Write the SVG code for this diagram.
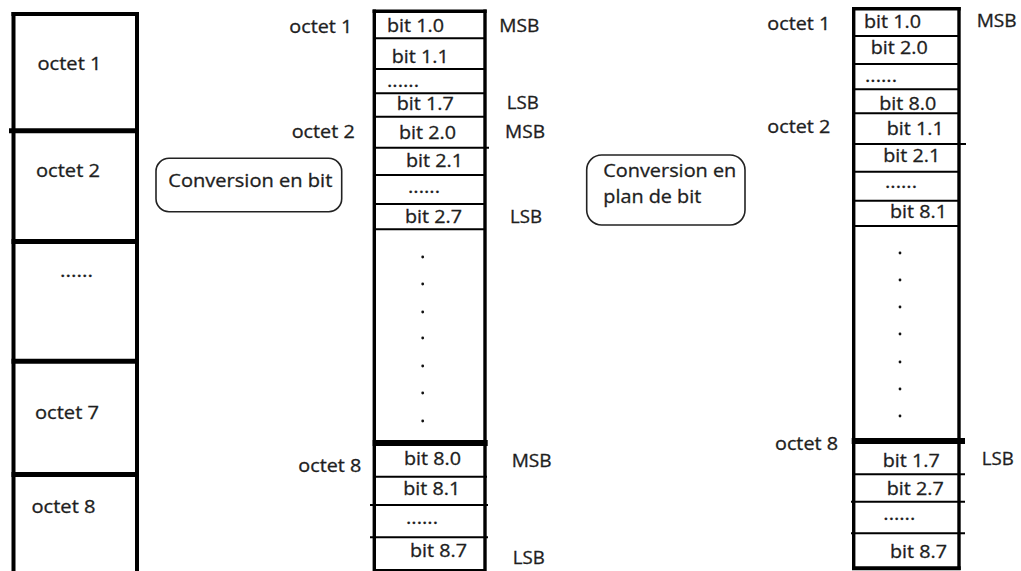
<svg xmlns="http://www.w3.org/2000/svg" width="1021" height="571" viewBox="0 0 1021 571">
<style>
  .t { font-family: "Open Sans", "Liberation Sans", sans-serif; font-size: 17.5px; fill: #1e1e1e; stroke: #1e1e1e; stroke-width: 0.3px; }
  .tb { font-family: "Open Sans", "Liberation Sans", sans-serif; font-size: 18px; fill: #1e1e1e; stroke: #1e1e1e; stroke-width: 0.3px; }
  .v { stroke: #000; stroke-width: 3.4; fill: none; }
  .h { stroke: #000; stroke-width: 2; fill: none; }
  .hk { stroke: #000; stroke-width: 6; fill: none; }
  .lv { stroke: #000; stroke-width: 4; fill: none; }
  .lh { stroke: #000; stroke-width: 5; fill: none; }
  .bub { fill: #fff; stroke: #222; stroke-width: 1.6; }
  .dot { fill: #111; }
</style>
<rect x="0" y="0" width="1021" height="571" fill="#fff"/>

<g id="bytes-column">
  <line class="lv" x1="13.5" y1="12" x2="13.5" y2="571"/>
  <line class="lv" x1="137" y1="12" x2="137" y2="571"/>
  <line class="lv" x1="11.5" y1="14" x2="139" y2="14"/>
  <line class="lh" x1="9" y1="130.7" x2="139" y2="130.7"/>
  <line class="lh" x1="11.5" y1="241.6" x2="139" y2="241.6"/>
  <line class="lh" x1="11.5" y1="361.3" x2="139" y2="361.3"/>
  <line class="lh" x1="11.5" y1="474.5" x2="139" y2="474.5"/>
  <g id="byte-1"><text class="tb" x="37.5" y="69.5" textLength="64" lengthAdjust="spacingAndGlyphs">octet 1</text></g>
  <g id="byte-2"><text class="tb" x="36" y="177" textLength="64" lengthAdjust="spacingAndGlyphs">octet 2</text></g>
  <g id="byte-dots"><text class="tb" x="60" y="276.5" textLength="33" lengthAdjust="spacingAndGlyphs">......</text></g>
  <g id="byte-7"><text class="tb" x="35" y="419" textLength="64" lengthAdjust="spacingAndGlyphs">octet 7</text></g>
  <g id="byte-8"><text class="tb" x="31.5" y="513" textLength="64" lengthAdjust="spacingAndGlyphs">octet 8</text></g>
</g>

<g id="bubble-conversion-bit">
  <rect class="bub" x="156" y="158.3" width="185.7" height="53.4" rx="13" ry="13"/>
  <text class="t" x="168.3" y="187.3" textLength="164" lengthAdjust="spacingAndGlyphs">Conversion en bit</text>
</g>

<g id="bits-column">
  <line class="v" x1="374.3" y1="9.5" x2="374.3" y2="571"/>
  <line class="v" x1="485" y1="9.5" x2="485" y2="571"/>
  <line class="v" x1="372.6" y1="11.3" x2="486.7" y2="11.3"/>
  <line class="h" x1="374" y1="38.3" x2="485" y2="38.3"/>
  <line class="h" x1="374" y1="69" x2="485" y2="69"/>
  <line class="h" x1="374" y1="93.3" x2="485" y2="93.3"/>
  <line class="h" x1="374" y1="116.7" x2="485" y2="116.7"/>
  <line class="h" x1="374" y1="147.7" x2="489" y2="147.7"/>
  <line class="h" x1="374" y1="175" x2="485" y2="175"/>
  <line class="h" x1="374" y1="204" x2="485" y2="204"/>
  <line class="h" x1="374" y1="229.3" x2="485" y2="229.3"/>
  <line class="hk" x1="372.7" y1="443" x2="487.7" y2="443"/>
  <line class="h" x1="374" y1="476.7" x2="487" y2="476.7"/>
  <line class="h" x1="370" y1="505" x2="488" y2="505"/>
  <line class="h" x1="370" y1="537.3" x2="488" y2="537.3"/>
  <line class="h" x1="374" y1="570" x2="485" y2="570"/>
  <g id="b10"><text class="t" x="387" y="31.7" textLength="57" lengthAdjust="spacingAndGlyphs">bit 1.0</text></g>
  <g id="b11"><text class="t" x="391.7" y="62.7" textLength="57" lengthAdjust="spacingAndGlyphs">bit 1.1</text></g>
  <g id="b1d"><text class="t" x="387" y="86.7" textLength="32" lengthAdjust="spacingAndGlyphs">......</text></g>
  <g id="b17"><text class="t" x="396.7" y="110" textLength="57" lengthAdjust="spacingAndGlyphs">bit 1.7</text></g>
  <g id="b20"><text class="t" x="399" y="139" textLength="57" lengthAdjust="spacingAndGlyphs">bit 2.0</text></g>
  <g id="b21"><text class="t" x="406" y="166.7" textLength="57" lengthAdjust="spacingAndGlyphs">bit 2.1</text></g>
  <g id="b2d"><text class="t" x="408" y="192.7" textLength="32" lengthAdjust="spacingAndGlyphs">......</text></g>
  <g id="b27"><text class="t" x="405" y="222.7" textLength="57" lengthAdjust="spacingAndGlyphs">bit 2.7</text></g>
  <g id="b-vdots">
    <circle class="dot" cx="422.7" cy="257" r="1.4"/>
    <circle class="dot" cx="422.7" cy="284" r="1.4"/>
    <circle class="dot" cx="422.7" cy="312" r="1.4"/>
    <circle class="dot" cx="422.7" cy="338" r="1.4"/>
    <circle class="dot" cx="422.7" cy="366" r="1.4"/>
    <circle class="dot" cx="422.7" cy="393" r="1.4"/>
    <circle class="dot" cx="422.7" cy="421" r="1.4"/>
  </g>
  <g id="b80"><text class="t" x="404" y="465" textLength="57" lengthAdjust="spacingAndGlyphs">bit 8.0</text></g>
  <g id="b81"><text class="t" x="403.3" y="495" textLength="57" lengthAdjust="spacingAndGlyphs">bit 8.1</text></g>
  <g id="b8d"><text class="t" x="406" y="524" textLength="32" lengthAdjust="spacingAndGlyphs">......</text></g>
  <g id="b87"><text class="t" x="410" y="556.7" textLength="57" lengthAdjust="spacingAndGlyphs">bit 8.7</text></g>
  <g id="bits-labels">
    <text class="t" x="289.3" y="33.3" textLength="63" lengthAdjust="spacingAndGlyphs">octet 1</text>
    <text class="t" x="291.7" y="138.3" textLength="63" lengthAdjust="spacingAndGlyphs">octet 2</text>
    <text class="t" x="298.3" y="471.7" textLength="63" lengthAdjust="spacingAndGlyphs">octet 8</text>
    <text class="t" x="499.3" y="31.7" textLength="40" lengthAdjust="spacingAndGlyphs">MSB</text>
    <text class="t" x="506.7" y="109.3" textLength="32" lengthAdjust="spacingAndGlyphs">LSB</text>
    <text class="t" x="505" y="138.3" textLength="40" lengthAdjust="spacingAndGlyphs">MSB</text>
    <text class="t" x="510" y="222.7" textLength="32" lengthAdjust="spacingAndGlyphs">LSB</text>
    <text class="t" x="511.7" y="466.7" textLength="40" lengthAdjust="spacingAndGlyphs">MSB</text>
    <text class="t" x="512.7" y="564" textLength="32" lengthAdjust="spacingAndGlyphs">LSB</text>
  </g>
</g>

<g id="bubble-conversion-plan">
  <rect class="bub" x="586.7" y="155" width="158.3" height="70" rx="15" ry="15"/>
  <text class="t" x="603.3" y="176.7" textLength="133" lengthAdjust="spacingAndGlyphs">Conversion en</text>
  <text class="t" x="603.3" y="203.3" textLength="98" lengthAdjust="spacingAndGlyphs">plan de bit</text>
</g>

<g id="bitplane-column">
  <line class="v" x1="853.7" y1="7" x2="853.7" y2="570"/>
  <line class="v" x1="959" y1="7" x2="959" y2="570"/>
  <line class="v" x1="852" y1="8.7" x2="960.7" y2="8.7"/>
  <line class="h" x1="853" y1="36" x2="959" y2="36"/>
  <line class="h" x1="853" y1="64" x2="959" y2="64"/>
  <line class="h" x1="853" y1="89.3" x2="959" y2="89.3"/>
  <line class="h" x1="853" y1="113.3" x2="959" y2="113.3"/>
  <line class="h" x1="853" y1="144" x2="966" y2="144"/>
  <line class="h" x1="853" y1="171.7" x2="959" y2="171.7"/>
  <line class="h" x1="853" y1="200.7" x2="959" y2="200.7"/>
  <line class="h" x1="853" y1="226" x2="959" y2="226"/>
  <line class="hk" x1="851.7" y1="441" x2="965" y2="441"/>
  <line class="h" x1="853" y1="474.3" x2="965" y2="474.3"/>
  <line class="h" x1="851" y1="501.7" x2="965" y2="501.7"/>
  <line class="h" x1="851" y1="533.3" x2="965" y2="533.3"/>
  <line class="lv" x1="852" y1="568.3" x2="960.7" y2="568.3"/>
  <g id="p10"><text class="t" x="864" y="28.3" textLength="57" lengthAdjust="spacingAndGlyphs">bit 1.0</text></g>
  <g id="p20"><text class="t" x="870.7" y="54" textLength="57" lengthAdjust="spacingAndGlyphs">bit 2.0</text></g>
  <g id="p1d"><text class="t" x="865" y="81.7" textLength="32" lengthAdjust="spacingAndGlyphs">......</text></g>
  <g id="p80"><text class="t" x="879.3" y="110" textLength="57" lengthAdjust="spacingAndGlyphs">bit 8.0</text></g>
  <g id="p11"><text class="t" x="886.7" y="135" textLength="57" lengthAdjust="spacingAndGlyphs">bit 1.1</text></g>
  <g id="p21"><text class="t" x="883.3" y="162.3" textLength="57" lengthAdjust="spacingAndGlyphs">bit 2.1</text></g>
  <g id="p2d"><text class="t" x="885" y="188.3" textLength="32" lengthAdjust="spacingAndGlyphs">......</text></g>
  <g id="p81"><text class="t" x="890" y="218.3" textLength="57" lengthAdjust="spacingAndGlyphs">bit 8.1</text></g>
  <g id="p-vdots">
    <circle class="dot" cx="900" cy="253" r="1.4"/>
    <circle class="dot" cx="900" cy="280" r="1.4"/>
    <circle class="dot" cx="900" cy="307" r="1.4"/>
    <circle class="dot" cx="900" cy="334" r="1.4"/>
    <circle class="dot" cx="900" cy="362" r="1.4"/>
    <circle class="dot" cx="900" cy="389" r="1.4"/>
    <circle class="dot" cx="900" cy="416" r="1.4"/>
  </g>
  <g id="p17"><text class="t" x="882.7" y="466.7" textLength="57" lengthAdjust="spacingAndGlyphs">bit 1.7</text></g>
  <g id="p27"><text class="t" x="886.7" y="495" textLength="57" lengthAdjust="spacingAndGlyphs">bit 2.7</text></g>
  <g id="p7d"><text class="t" x="883.3" y="520" textLength="32" lengthAdjust="spacingAndGlyphs">......</text></g>
  <g id="p87"><text class="t" x="890" y="558.3" textLength="57" lengthAdjust="spacingAndGlyphs">bit 8.7</text></g>
  <g id="bitplane-labels">
    <text class="t" x="767.3" y="30" textLength="63" lengthAdjust="spacingAndGlyphs">octet 1</text>
    <text class="t" x="767.3" y="133.3" textLength="63" lengthAdjust="spacingAndGlyphs">octet 2</text>
    <text class="t" x="775" y="450" textLength="63" lengthAdjust="spacingAndGlyphs">octet 8</text>
    <text class="t" x="976.7" y="26.7" textLength="40" lengthAdjust="spacingAndGlyphs">MSB</text>
    <text class="t" x="981.7" y="465" textLength="32" lengthAdjust="spacingAndGlyphs">LSB</text>
  </g>
</g>

<g id="connectors"></g>
</svg>
